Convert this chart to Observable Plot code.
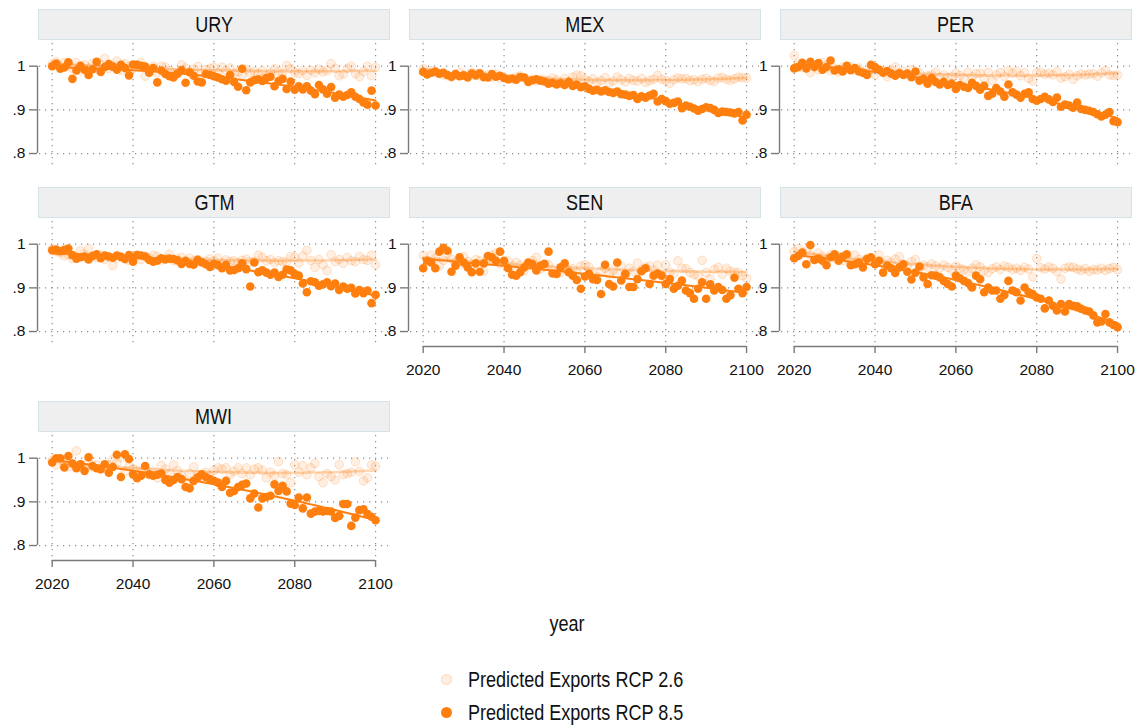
<!DOCTYPE html>
<html><head><meta charset="utf-8">
<script src="https://cdn.jsdelivr.net/npm/d3@7"></script>
<script src="https://cdn.jsdelivr.net/npm/@observablehq/plot@0.6"></script>
<style>
body{margin:0;background:#fff;}
#root{position:relative;width:1137px;height:728px;overflow:hidden;background:#fff;font-family:"Liberation Sans",Arial,sans-serif;color:#111;}
.hdr{position:absolute;box-sizing:border-box;background:#efefef;border:1px solid #d5e3e8;text-align:center;font-size:22px;line-height:29px;color:#111;}
.hdr span{display:inline-block;transform:scaleX(0.82);}
.panel{position:absolute;}
.lbl{position:absolute;font-size:22px;white-space:nowrap;transform-origin:left top;transform:scaleX(0.82);}
.lbl.mid{transform-origin:center top;transform:translateX(-50%) scaleX(0.82);}
.mk{position:absolute;width:11px;height:11px;border-radius:50%;box-sizing:border-box;}
</style></head><body><div id="root"></div>
<script>
const countries = ["URY","MEX","PER","GTM","SEN","BFA","MWI"];
const years = d3.range(2020, 2101);
const xTicks = [2020, 2040, 2060, 2080, 2100];
const yTicks = [0.8, 0.9, 1];
const seriesNames = ["Predicted Exports RCP 2.6", "Predicted Exports RCP 8.5"];

const ury26 = [1.005,1.010,0.998,1.008,1.002,0.995,1.008,0.990,1.003,0.996,
1.007,0.999,1.004,1.018,0.995,1.001,1.012,0.990,1.006,1.000,
0.995,1.003,1.008,0.977,0.993,1.000,0.985,1.000,0.998,0.990,
0.985,0.982,1.003,0.996,0.987,0.993,0.999,0.984,0.992,0.995,
0.997,0.985,0.998,0.990,0.996,0.983,0.987,0.980,0.993,0.985,
0.988,0.983,0.990,0.978,0.985,0.994,0.988,0.983,1.002,0.995,
0.986,0.983,0.990,0.979,0.991,0.985,0.993,0.987,0.990,1.006,
0.995,0.978,0.982,0.995,1.000,0.983,0.976,0.988,1.000,0.978,
0.997];
const ury85 = [1.000,1.006,0.994,0.997,1.009,0.971,0.990,1.001,0.992,0.980,
0.993,1.010,0.987,0.998,1.005,0.999,0.992,1.003,0.996,0.979,
1.004,1.003,1.001,0.999,0.985,0.996,0.963,0.990,0.982,0.977,
0.974,0.983,0.991,0.962,0.986,0.978,0.965,0.963,0.982,0.980,
0.977,0.974,0.970,0.967,0.980,0.964,0.953,0.994,0.945,0.963,
0.968,0.970,0.966,0.973,0.976,0.954,0.966,0.971,0.948,0.965,
0.946,0.954,0.947,0.954,0.944,0.936,0.957,0.947,0.937,0.952,
0.928,0.935,0.930,0.934,0.940,0.930,0.925,0.917,0.912,0.944,
0.910];
const mex26 = [0.994,0.985,0.990,0.986,0.983,0.980,0.978,0.975,0.982,0.986,
0.980,0.977,0.986,0.983,0.978,0.977,0.980,0.975,0.982,0.973,
0.976,0.971,0.969,0.975,0.978,0.973,0.968,0.970,0.966,0.970,
0.968,0.967,0.973,0.969,0.964,0.972,0.965,0.975,0.980,0.978,
0.970,0.966,0.971,0.963,0.967,0.974,0.962,0.966,0.975,0.969,
0.964,0.972,0.968,0.966,0.972,0.963,0.967,0.970,0.979,0.970,
0.967,0.961,0.969,0.973,0.971,0.972,0.967,0.969,0.965,0.970,
0.972,0.967,0.965,0.973,0.974,0.970,0.968,0.971,0.975,0.974,
0.973];
const mex85 = [0.987,0.981,0.985,0.988,0.983,0.985,0.980,0.976,0.982,0.977,
0.979,0.974,0.983,0.979,0.984,0.975,0.974,0.982,0.976,0.978,
0.973,0.970,0.972,0.969,0.975,0.974,0.964,0.968,0.970,0.967,
0.965,0.960,0.962,0.958,0.961,0.957,0.964,0.955,0.958,0.952,
0.954,0.948,0.944,0.946,0.942,0.945,0.941,0.939,0.942,0.936,
0.935,0.932,0.934,0.925,0.931,0.928,0.933,0.937,0.919,0.925,
0.920,0.914,0.916,0.919,0.904,0.910,0.907,0.903,0.898,0.902,
0.906,0.904,0.900,0.893,0.896,0.895,0.894,0.892,0.895,0.876,
0.889];
const per26 = [1.024,1.005,0.997,1.000,0.985,1.003,0.992,1.008,1.002,0.990,
0.995,0.987,0.998,0.994,0.999,0.991,0.996,0.987,0.983,0.992,
0.980,0.993,0.988,0.976,0.991,0.998,0.985,0.988,0.982,0.992,
0.977,0.985,0.972,0.978,0.980,0.986,0.975,0.980,0.974,0.977,
0.984,0.979,0.973,0.986,0.976,0.983,0.984,0.972,0.986,0.967,
0.980,0.986,0.977,0.990,0.984,0.989,0.978,0.985,0.972,0.966,
0.985,0.986,0.981,0.984,0.980,0.988,0.973,0.976,0.981,0.970,
0.978,0.982,0.980,0.982,0.983,0.977,0.985,0.990,0.980,0.979,
0.980];
const per85 = [0.995,0.998,1.008,0.995,1.010,0.998,1.007,0.992,0.998,1.013,
0.990,0.993,0.988,1.001,0.991,0.996,0.988,0.985,0.980,1.003,
0.998,0.992,0.985,0.989,0.983,0.978,0.984,0.980,0.983,0.975,
0.988,0.967,0.971,0.960,0.973,0.964,0.958,0.964,0.957,0.960,
0.948,0.957,0.953,0.950,0.962,0.955,0.946,0.955,0.932,0.937,
0.950,0.942,0.930,0.958,0.940,0.935,0.928,0.937,0.940,0.925,
0.921,0.925,0.930,0.924,0.918,0.928,0.907,0.912,0.910,0.905,
0.917,0.902,0.900,0.898,0.895,0.890,0.885,0.889,0.895,0.874,
0.872];
const gtm26 = [0.990,0.983,0.980,0.973,0.976,0.967,0.972,0.985,0.977,0.990,
0.973,0.969,0.975,0.965,0.970,0.951,0.968,0.972,0.966,0.963,
0.970,0.975,0.965,0.973,0.968,0.975,0.972,0.964,0.968,0.977,
0.962,0.966,0.970,0.960,0.968,0.962,0.965,0.958,0.961,0.966,
0.962,0.968,0.957,0.964,0.960,0.962,0.958,0.963,0.966,0.960,
0.961,0.975,0.970,0.962,0.965,0.958,0.962,0.960,0.959,0.972,
0.970,0.957,0.973,0.986,0.963,0.947,0.965,0.953,0.940,0.976,
0.960,0.965,0.956,0.970,0.962,0.960,0.972,0.965,0.963,0.975,
0.953];
const gtm85 = [0.986,0.988,0.984,0.987,0.990,0.975,0.967,0.970,0.972,0.965,
0.973,0.977,0.968,0.974,0.972,0.969,0.974,0.971,0.966,0.975,
0.960,0.975,0.974,0.972,0.964,0.960,0.962,0.968,0.965,0.967,
0.966,0.963,0.955,0.962,0.955,0.953,0.964,0.959,0.954,0.948,
0.955,0.952,0.945,0.953,0.940,0.941,0.945,0.956,0.943,0.903,
0.958,0.936,0.940,0.935,0.930,0.935,0.925,0.930,0.942,0.940,
0.932,0.928,0.910,0.890,0.915,0.913,0.905,0.908,0.913,0.904,
0.910,0.895,0.903,0.898,0.900,0.887,0.895,0.888,0.894,0.865,
0.884];
const sen26 = [0.974,0.960,0.975,0.968,0.950,0.963,0.979,0.966,0.958,0.954,
0.972,0.960,0.948,0.965,0.962,0.938,0.968,0.975,0.980,0.955,
0.958,0.962,0.950,0.958,0.952,0.940,0.955,0.962,0.970,0.943,
0.948,0.953,0.940,0.936,0.935,0.948,0.940,0.944,0.935,0.950,
0.953,0.948,0.930,0.925,0.938,0.945,0.932,0.940,0.933,0.950,
0.930,0.945,0.938,0.957,0.940,0.948,0.950,0.940,0.952,0.927,
0.953,0.935,0.932,0.962,0.945,0.944,0.935,0.930,0.927,0.963,
0.935,0.920,0.942,0.947,0.931,0.945,0.938,0.935,0.935,0.928,
0.922];
const sen85 = [0.945,0.962,0.958,0.945,0.983,0.992,0.985,0.937,0.951,0.970,
0.958,0.947,0.936,0.956,0.937,0.956,0.973,0.970,0.962,0.983,
0.962,0.945,0.930,0.928,0.936,0.947,0.958,0.955,0.940,0.951,
0.955,0.983,0.933,0.932,0.947,0.956,0.936,0.928,0.918,0.898,
0.926,0.933,0.920,0.918,0.886,0.953,0.909,0.903,0.958,0.917,
0.932,0.902,0.902,0.920,0.938,0.945,0.909,0.928,0.933,0.928,
0.909,0.920,0.898,0.905,0.917,0.894,0.888,0.875,0.898,0.913,
0.875,0.908,0.894,0.902,0.895,0.875,0.883,0.923,0.898,0.888,
0.902];
const bfa26 = [0.983,0.990,0.978,0.985,0.975,0.970,0.980,0.972,0.965,0.975,
0.968,0.972,0.963,0.970,0.957,0.975,0.965,0.960,0.968,0.962,
0.958,0.975,0.955,0.963,0.958,0.966,0.972,0.955,0.950,0.960,
0.965,0.945,0.952,0.948,0.955,0.950,0.945,0.952,0.947,0.940,
0.950,0.945,0.942,0.937,0.945,0.953,0.948,0.940,0.935,0.944,
0.948,0.942,0.950,0.947,0.942,0.945,0.940,0.947,0.943,0.925,
0.967,0.946,0.943,0.948,0.945,0.937,0.920,0.945,0.948,0.947,
0.943,0.940,0.944,0.938,0.942,0.941,0.945,0.940,0.944,0.947,
0.942];
const bfa85 = [0.968,0.973,0.981,0.954,0.998,0.964,0.967,0.962,0.952,0.970,
0.977,0.962,0.972,0.977,0.952,0.954,0.958,0.947,0.966,0.970,
0.954,0.962,0.935,0.951,0.945,0.934,0.947,0.954,0.937,0.919,
0.935,0.949,0.924,0.909,0.929,0.928,0.924,0.916,0.909,0.903,
0.928,0.922,0.916,0.911,0.901,0.928,0.920,0.890,0.901,0.894,
0.894,0.875,0.884,0.916,0.894,0.890,0.871,0.901,0.890,0.886,
0.878,0.875,0.853,0.871,0.859,0.848,0.863,0.846,0.863,0.859,
0.858,0.852,0.848,0.846,0.837,0.821,0.823,0.840,0.821,0.815,
0.810];
const mwi26 = [0.995,0.985,0.998,0.990,0.980,0.988,1.017,0.985,0.975,0.992,
0.980,0.985,0.975,0.978,0.985,0.997,0.990,1.002,0.970,0.982,
0.976,0.972,0.968,0.978,0.962,0.970,0.955,0.983,0.975,0.965,
0.985,0.972,0.960,0.945,0.965,0.980,0.962,0.955,0.968,0.960,
0.972,0.978,0.975,0.978,0.962,0.970,0.978,0.965,0.978,0.962,
0.975,0.978,0.972,0.955,0.968,0.960,0.992,0.965,0.962,0.944,
0.985,0.968,0.983,0.962,0.978,0.988,0.958,0.944,0.965,0.958,
0.950,0.985,0.962,0.965,0.968,0.992,0.970,0.948,0.955,0.985,
0.982];
const mwi85 = [0.990,1.000,1.000,0.979,1.005,0.988,0.977,0.986,0.971,1.002,
0.982,0.977,0.975,0.986,0.967,0.980,1.008,0.957,1.009,0.998,
0.963,0.954,0.960,0.982,0.963,0.960,0.962,0.965,0.950,0.944,
0.950,0.957,0.952,0.934,0.931,0.948,0.956,0.963,0.957,0.952,
0.948,0.944,0.934,0.948,0.921,0.925,0.934,0.939,0.942,0.908,
0.919,0.887,0.908,0.911,0.914,0.940,0.925,0.937,0.924,0.896,
0.893,0.910,0.885,0.910,0.873,0.878,0.879,0.878,0.879,0.878,
0.863,0.868,0.895,0.895,0.845,0.864,0.881,0.883,0.872,0.866,
0.858];

const series26 = {URY: ury26, MEX: mex26, PER: per26, GTM: gtm26, SEN: sen26, BFA: bfa26, MWI: mwi26};
const series85 = {URY: ury85, MEX: mex85, PER: per85, GTM: gtm85, SEN: sen85, BFA: bfa85, MWI: mwi85};

const ORANGE = "#ff7f0e";
const FONT = '"Liberation Sans", Arial, sans-serif';

function quadFit(xs, ys) {
  const c = 2060;
  let S = [0,0,0,0,0], T = [0,0,0];
  xs.forEach((x, i) => {
    const t = x - c, y = ys[i];
    let p = 1;
    for (let k = 0; k < 5; k++) { S[k] += p; if (k < 3) T[k] += p * y; p *= t; }
  });
  const M = [[S[0],S[1],S[2]],[S[1],S[2],S[3]],[S[2],S[3],S[4]]];
  const det = m => m[0][0]*(m[1][1]*m[2][2]-m[1][2]*m[2][1]) - m[0][1]*(m[1][0]*m[2][2]-m[1][2]*m[2][0]) + m[0][2]*(m[1][0]*m[2][1]-m[1][1]*m[2][0]);
  const D = det(M);
  const coef = [0,1,2].map(j => det(M.map((row, r) => row.map((v, k) => k === j ? T[r] : v))) / D);
  return xs.map(x => { const t = x - c; return {year: x, value: coef[0] + coef[1]*t + coef[2]*t*t}; });
}

const root = document.getElementById("root");
const colLeft = [0, 371, 741.6];
const plotTop = [43, 220.6, 434.6];
const hdrTop = [9, 187, 401];
const layout = {URY:[0,0], MEX:[0,1], PER:[0,2], GTM:[1,0], SEN:[1,1], BFA:[1,2], MWI:[2,0]};
const withX = new Set(["SEN","BFA","MWI"]);
const xDom = [2016.86, 2103.2];
const yDom = [0.768, 1.052];

for (const c of countries) {
  const [r, col] = layout[c];
  const hdr = document.createElement("div");
  hdr.className = "hdr";
  hdr.style.left = (colLeft[col] + 38) + "px";
  hdr.style.top = hdrTop[r] + "px";
  hdr.style.width = "352px";
  hdr.style.height = "31px";
  const sp = document.createElement("span");
  sp.textContent = c;
  hdr.appendChild(sp);
  root.appendChild(hdr);

  const d26 = years.map((y, i) => ({year: y, value: series26[c][i]}));
  const d85 = years.map((y, i) => ({year: y, value: series85[c][i]}));
  const f26 = quadFit(years, series26[c]);
  const f85 = quadFit(years, series85[c]);
  const hasX = withX.has(c);
  const mb = hasX ? 42 : 4;
  const grid = {stroke: "#8c8c8c", strokeWidth: 1.2, strokeDasharray: "1.2,4.8"};
  const marks = [
    Plot.ruleY(yTicks, grid),
    Plot.ruleX(xTicks, grid),
    Plot.ruleX([xDom[0]], {y1: 0.8, y2: 1, dx: -2, stroke: "#7a7a7a", strokeWidth: 1.4}),
    Plot.axisY({ticks: yTicks, tickSize: 8, tickFormat: () => "", dx: -2, stroke: "#7a7a7a", strokeWidth: 1.4, label: null}),
    Plot.axisY({ticks: yTicks, tickSize: 0, tickPadding: 14, tickFormat: d => d === 1 ? "1" : "." + Math.round(d * 10), fontSize: 15.5, fill: "#111", label: null}),
    Plot.dot(d26, {x: "year", y: "value", r: 4.3, fill: ORANGE, fillOpacity: 0.12, stroke: ORANGE, strokeOpacity: 0.2, strokeWidth: 1}),
    Plot.line(f26, {x: "year", y: "value", stroke: ORANGE, strokeOpacity: 0.3, strokeWidth: 2.5}),
    Plot.dot(d85, {x: "year", y: "value", r: 4.3, fill: ORANGE}),
    Plot.line(f85, {x: "year", y: "value", stroke: ORANGE, strokeWidth: 2})
  ];
  if (hasX) {
    marks.push(Plot.ruleY([yDom[0]], {x1: 2020, x2: 2100, dy: 1, stroke: "#7a7a7a", strokeWidth: 1.4}));
    marks.push(Plot.axisX({ticks: xTicks, tickSize: 7, tickFormat: () => "", dy: 1, stroke: "#7a7a7a", strokeWidth: 1.4, label: null}));
    marks.push(Plot.axisX({ticks: xTicks, tickSize: 0, tickPadding: 18, tickFormat: d => String(d), fontSize: 15.5, fill: "#111", label: null}));
  }
  const svg = Plot.plot({
    width: 391, height: 2 + 124 + mb,
    marginLeft: 39, marginRight: 3, marginTop: 2, marginBottom: mb,
    x: {domain: xDom, axis: null},
    y: {domain: yDom, axis: null},
    style: {fontFamily: FONT, background: "transparent", overflow: "visible", color: "#111"},
    marks
  });
  svg.classList.add("panel");
  svg.style.left = colLeft[col] + "px";
  svg.style.top = (plotTop[r] - 2) + "px";
  root.appendChild(svg);
}

function addLabel(text, x, y, mid) {
  const d = document.createElement("div");
  d.className = mid ? "lbl mid" : "lbl";
  d.textContent = text;
  d.style.left = x + "px";
  d.style.top = y + "px";
  root.appendChild(d);
  return d;
}
addLabel("year", 567, 611, true);
const mk1 = document.createElement("div");
mk1.className = "mk"; mk1.style.left = "440.5px"; mk1.style.top = "673.5px";
mk1.style.background = "rgba(255,127,14,0.12)"; mk1.style.border = "1px solid rgba(255,127,14,0.2)";
root.appendChild(mk1);
const mk2 = document.createElement("div");
mk2.className = "mk"; mk2.style.left = "440.5px"; mk2.style.top = "706.5px";
mk2.style.background = ORANGE;
root.appendChild(mk2);
addLabel(seriesNames[0], 468, 667, false);
addLabel(seriesNames[1], 468, 700, false);
</script></body></html>
